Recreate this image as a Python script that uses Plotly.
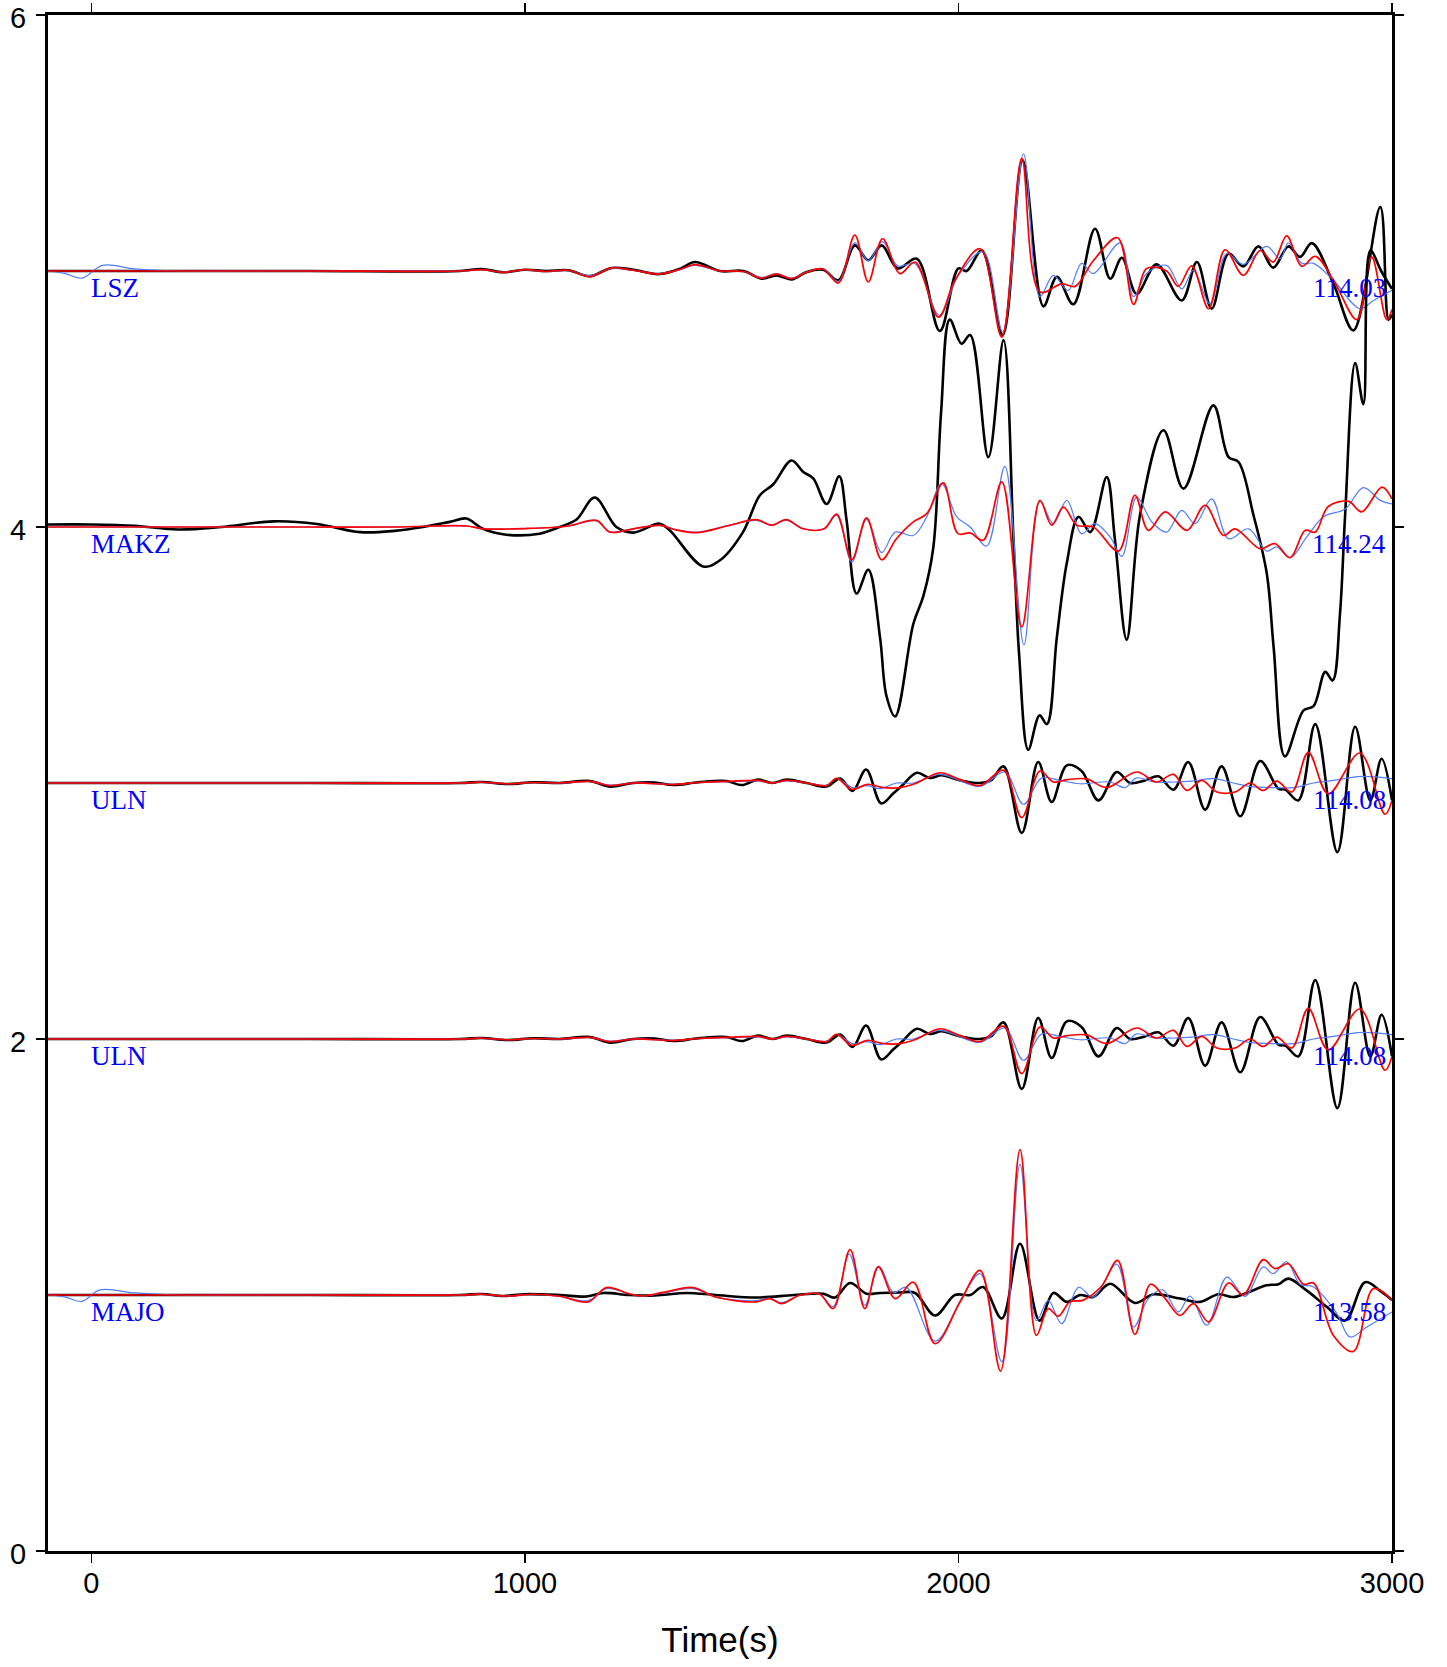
import plotly.graph_objects as go

# ---------------- data ----------------
STATIONS = ["LSZ", "MAKZ", "ULN", "ULN", "MAJO"]
BASELINES = [5, 4, 3, 2, 1]
RIGHT_LABELS = ["114.03", "114.24", "114.08", "114.08", "113.58"]
X_TICKS = [0, 1000, 2000, 3000]
Y_TICKS = [0, 2, 4, 6]

# LSZ
LSZ_BLACK_T = [-100, 0, 200, 500, 850, 900, 950, 1000, 1050, 1100, 1150, 1200, 1250, 1310, 1360, 1392, 1450, 1504, 1546, 1580, 1615, 1650, 1688, 1723, 1761, 1792, 1823, 1860, 1904, 1957, 2000, 2019, 2054, 2102, 2148, 2196, 2227, 2265, 2315, 2350, 2377, 2411, 2457, 2515, 2550, 2584, 2623, 2657, 2692, 2726, 2761, 2788, 2815, 2865, 2911, 2973, 2992, 3000]
LSZ_BLACK_A = [0, 0, 0, 0, 0, 0.008, -0.005, 0.005, 0, 0.003, -0.02, 0.012, 0.005, -0.012, 0.01, 0.035, 0.0, 0.0, -0.03, -0.017, -0.033, -0.004, 0.005, -0.036, 0.10, 0.042, 0.10, 0.01, 0.048, -0.234, 0.01, 0.0, 0.08, -0.25, 0.432, -0.138, -0.023, -0.13, 0.165, -0.03, 0.052, -0.089, 0.026, -0.115, 0.035, -0.147, 0.068, 0.018, 0.096, 0.013, 0.096, 0.055, 0.109, -0.05, -0.232, 0.25, -0.19, -0.17]
LSZ_RED_T = [-100, 200, 500, 850, 900, 950, 1000, 1050, 1100, 1150, 1200, 1250, 1310, 1360, 1392, 1450, 1504, 1546, 1580, 1615, 1650, 1688, 1723, 1761, 1792, 1825, 1865, 1900, 1954, 1992, 2050, 2100, 2146, 2188, 2238, 2269, 2311, 2367, 2404, 2434, 2480, 2507, 2538, 2577, 2615, 2657, 2696, 2726, 2757, 2792, 2823, 2865, 2919, 2953, 2988, 3000]
LSZ_RED_A = [0, 0, 0, 0, 0.005, -0.005, 0.005, -0.002, 0.003, -0.022, 0.012, 0.003, -0.012, 0.008, 0.025, 0.0, -0.002, -0.028, -0.012, -0.03, -0.005, 0.008, -0.047, 0.14, -0.043, 0.126, -0.01, 0.035, -0.18, -0.036, 0.087, -0.258, 0.44, -0.082, -0.05, -0.06, 0.04, 0.13, -0.13, 0.01, 0.0, -0.06, 0.02, -0.147, 0.083, -0.017, 0.08, 0.035, 0.137, 0.018, 0.057, -0.036, -0.19, 0.055, -0.19, -0.15]
LSZ_BLUE_T = [-100, -60, -22, 26, 100, 200, 400, 600, 850, 900, 950, 1000, 1050, 1100, 1150, 1200, 1250, 1310, 1360, 1392, 1450, 1504, 1546, 1580, 1615, 1650, 1688, 1723, 1761, 1792, 1825, 1860, 1900, 1956, 2000, 2057, 2102, 2150, 2188, 2219, 2253, 2284, 2311, 2373, 2404, 2434, 2480, 2515, 2542, 2580, 2619, 2657, 2711, 2742, 2761, 2792, 2819, 2865, 2926, 2957, 3000]
LSZ_BLUE_A = [0, -0.01, -0.028, 0.022, 0.008, 0, 0, 0, 0, 0.004, -0.004, 0.004, -0.002, 0.002, -0.018, 0.01, 0.003, -0.01, 0.006, 0.022, 0, -0.002, -0.025, -0.01, -0.028, -0.004, 0.008, -0.04, 0.11, 0.04, 0.115, 0.02, 0.028, -0.173, -0.017, 0.075, -0.238, 0.458, -0.1, -0.017, -0.076, 0.03, -0.01, 0.11, -0.1, -0.01, 0.022, -0.07, 0.003, -0.128, 0.068, 0.026, 0.096, 0.048, 0.11, 0.03, 0.03, -0.036, -0.147, -0.115, -0.075]

# MAKZ
MAKZ_BLACK_T = [-100, 0, 100, 200, 300, 420, 520, 620, 700, 765, 827, 865, 903, 957, 1034, 1080, 1119, 1161, 1211, 1250, 1311, 1334, 1411, 1450, 1503, 1542, 1573, 1615, 1642, 1665, 1696, 1725, 1742, 1765, 1792, 1819, 1834, 1854, 1896, 1919, 1942, 1960, 1980, 2007, 2027, 2069, 2104, 2127, 2140, 2161, 2187, 2204, 2227, 2250, 2277, 2304, 2342, 2361, 2388, 2419, 2473, 2519, 2588, 2623, 2646, 2680, 2711, 2727, 2753, 2796, 2819, 2846, 2863, 2880, 2892, 2915, 2934, 2950, 2975, 3000]
MAKZ_BLACK_A = [0.01, 0.01, 0.005, -0.01, 0.0, 0.022, 0.012, -0.02, -0.015, 0.0, 0.02, 0.033, -0.007, -0.03, -0.026, 0.0, 0.029, 0.115, 0.0, -0.022, 0.013, -0.013, -0.154, -0.13, -0.02, 0.124, 0.167, 0.26, 0.215, 0.19, 0.09, 0.198, 0.026, -0.26, -0.167, -0.43, -0.66, -0.74, -0.378, -0.27, -0.08, 0.45, 0.81, 0.716, 0.75, 0.273, 0.73, -0.05, -0.5, -0.87, -0.736, -0.77, -0.43, -0.14, 0.04, -0.02, 0.195, -0.05, -0.44, 0.05, 0.378, 0.15, 0.475, 0.273, 0.254, 0.05, -0.18, -0.47, -0.896, -0.716, -0.7, -0.566, -0.6, -0.34, 0.05, 0.64, 0.48, 1.08, 1.0, 0.93]
MAKZ_RED_T = [-100, 100, 300, 500, 700, 865, 903, 1000, 1100, 1165, 1196, 1250, 1311, 1350, 1396, 1473, 1534, 1569, 1603, 1642, 1690, 1719, 1754, 1788, 1823, 1857, 1896, 1927, 1965, 1999, 2027, 2057, 2100, 2146, 2188, 2215, 2242, 2273, 2311, 2369, 2407, 2438, 2477, 2527, 2569, 2611, 2638, 2696, 2730, 2765, 2800, 2823, 2853, 2900, 2930, 2977, 3000]
MAKZ_RED_A = [0, 0, 0, 0, 0.0, 0.004, -0.007, -0.006, 0.004, 0.026, -0.02, -0.007, 0.006, -0.012, -0.022, 0.007, 0.029, 0.007, 0.029, -0.007, -0.007, 0.05, -0.128, 0.036, -0.128, -0.046, 0.02, 0.052, 0.172, -0.026, -0.023, -0.052, 0.176, -0.39, 0.104, 0.007, 0.078, 0.007, 0.0, -0.094, 0.124, -0.013, 0.059, -0.013, 0.085, -0.033, -0.007, -0.085, -0.065, -0.12, -0.013, -0.02, 0.08, 0.1, 0.059, 0.156, 0.11]
MAKZ_BLUE_T = [-100, 100, 300, 500, 700, 865, 903, 1000, 1100, 1165, 1196, 1250, 1311, 1350, 1396, 1473, 1534, 1569, 1603, 1642, 1690, 1719, 1754, 1788, 1823, 1854, 1896, 1927, 1961, 1996, 2027, 2065, 2107, 2151, 2188, 2219, 2250, 2284, 2315, 2350, 2377, 2411, 2446, 2480, 2515, 2546, 2584, 2623, 2669, 2711, 2734, 2765, 2803, 2842, 2892, 2934, 2973, 3000]
MAKZ_BLUE_A = [0, 0, 0, 0, 0.0, 0.004, -0.007, -0.006, 0.004, 0.024, -0.018, -0.007, 0.006, -0.01, -0.02, 0.007, 0.026, 0.007, 0.026, -0.007, -0.007, 0.045, -0.137, 0.03, -0.1, -0.02, -0.033, 0.04, 0.17, 0.04, 0.0, -0.075, 0.237, -0.46, 0.1, 0.013, 0.104, -0.026, 0.013, -0.04, -0.115, 0.117, 0.02, -0.02, 0.065, 0.013, 0.11, -0.046, -0.007, -0.094, -0.078, -0.12, -0.04, 0.04, 0.07, 0.154, 0.104, 0.09]

# ULN (same record shown in two rows)
ULN_BLACK_T = [-100, 200, 500, 850, 900, 960, 1020, 1080, 1150, 1196, 1250, 1300, 1342, 1400, 1465, 1500, 1538, 1570, 1604, 1650, 1696, 1727, 1756, 1787, 1822, 1850, 1870, 1904, 1934, 1961, 2004, 2050, 2075, 2104, 2146, 2184, 2215, 2250, 2284, 2323, 2365, 2396, 2430, 2461, 2496, 2530, 2569, 2607, 2650, 2696, 2738, 2754, 2784, 2823, 2874, 2915, 2950, 2976, 3000]
ULN_BLACK_A = [0, 0, 0, 0.0, 0.004, -0.004, 0.003, 0.0, 0.008, -0.014, 0.0, 0.002, -0.008, 0.003, 0.008, -0.008, 0.013, 0.0, 0.013, 0.0, -0.014, 0.017, -0.031, 0.053, -0.08, -0.04, -0.01, 0.04, 0.02, 0.03, 0.01, 0.0, 0.01, 0.065, -0.195, 0.082, -0.074, 0.069, 0.047, -0.068, 0.043, 0.0, 0.01, 0.026, -0.026, 0.082, -0.104, 0.065, -0.13, 0.086, -0.022, -0.026, -0.068, 0.23, -0.27, 0.22, -0.068, 0.095, -0.068]
ULN_RED_T = [-100, 200, 500, 850, 900, 960, 1020, 1080, 1150, 1196, 1250, 1342, 1400, 1465, 1538, 1570, 1604, 1650, 1696, 1719, 1754, 1790, 1827, 1865, 1904, 1957, 2004, 2050, 2104, 2146, 2188, 2219, 2250, 2296, 2342, 2411, 2457, 2496, 2527, 2561, 2596, 2638, 2673, 2703, 2734, 2769, 2807, 2853, 2926, 2984, 3000]
ULN_RED_A = [0, 0, 0, 0, 0.003, -0.003, 0.002, 0, 0.006, -0.01, 0.0, -0.006, 0.002, 0.006, 0.01, 0.0, 0.01, 0.0, -0.01, 0.018, -0.025, -0.005, -0.018, -0.018, 0.0, 0.04, 0.013, -0.01, 0.05, -0.135, 0.047, 0.004, 0.013, 0.016, -0.018, 0.043, 0.004, 0.034, -0.029, 0.01, -0.035, -0.035, 0.0, -0.029, 0.007, -0.035, 0.12, -0.042, 0.117, -0.122, -0.068]
ULN_BLUE_T = [-100, 200, 500, 850, 900, 960, 1020, 1080, 1150, 1196, 1250, 1342, 1400, 1465, 1538, 1570, 1604, 1650, 1696, 1719, 1756, 1790, 1819, 1857, 1896, 1957, 2050, 2107, 2150, 2192, 2234, 2280, 2350, 2384, 2411, 2450, 2496, 2538, 2588, 2634, 2673, 2726, 2773, 2819, 2865, 2930, 3000]
ULN_BLUE_A = [0, 0, 0, 0, 0.003, -0.003, 0.002, 0, 0.005, -0.008, 0.0, -0.005, 0.002, 0.005, 0.008, 0.0, 0.008, 0.0, -0.008, 0.018, -0.018, -0.01, -0.022, 0.0, 0.0, 0.034, -0.013, 0.043, -0.083, 0.02, 0.01, -0.003, 0.004, -0.018, 0.02, 0.004, 0.004, 0.007, 0.017, 0.0, -0.013, -0.018, -0.018, 0.0, 0.01, 0.026, 0.017]

# MAJO
MAJO_BLACK_T = [-100, 200, 500, 850, 900, 950, 1000, 1080, 1141, 1181, 1240, 1300, 1373, 1440, 1534, 1620, 1688, 1715, 1750, 1788, 1819, 1865, 1900, 1946, 1992, 2027, 2057, 2100, 2142, 2187, 2219, 2250, 2280, 2311, 2350, 2407, 2450, 2511, 2557, 2600, 2634, 2665, 2711, 2738, 2761, 2803, 2850, 2892, 2938, 2973, 3000]
MAJO_BLACK_A = [0, 0, 0, 0, 0.004, -0.004, 0.003, 0.0, -0.006, 0.008, 0.0, -0.002, 0.008, 0.0, -0.01, 0.0, 0.005, -0.01, 0.047, 0.005, 0.008, 0.01, 0.008, -0.08, 0.0, 0.0, 0.031, -0.092, 0.2, -0.1, 0.008, -0.027, 0.0, -0.008, 0.044, -0.031, 0.003, -0.014, -0.027, 0.003, -0.008, 0.008, 0.038, 0.042, 0.064, 0.018, -0.047, -0.1, 0.05, 0.016, -0.02]
MAJO_RED_T = [-100, 200, 500, 850, 900, 960, 1020, 1080, 1146, 1188, 1240, 1270, 1319, 1388, 1440, 1534, 1565, 1592, 1634, 1680, 1711, 1750, 1784, 1815, 1854, 1896, 1946, 2004, 2050, 2097, 2142, 2180, 2207, 2230, 2257, 2288, 2330, 2367, 2407, 2443, 2477, 2511, 2542, 2577, 2623, 2657, 2703, 2730, 2761, 2796, 2819, 2865, 2911, 2957, 3000]
MAJO_RED_A = [0, 0, 0, 0, 0.003, -0.004, 0.003, -0.005, -0.027, 0.029, 0.005, -0.004, 0.01, 0.029, -0.008, -0.027, -0.014, -0.034, -0.001, 0.003, -0.053, 0.177, -0.053, 0.11, -0.014, 0.05, -0.19, -0.027, 0.096, -0.297, 0.568, -0.158, -0.053, -0.083, -0.027, -0.02, 0.034, 0.135, -0.154, 0.042, -0.014, -0.08, -0.034, -0.105, 0.047, 0.0, 0.138, 0.103, 0.122, 0.042, 0.047, -0.158, -0.22, 0.025, -0.02]
MAJO_BLUE_T = [-100, -60, -22, 20, 100, 200, 400, 600, 850, 900, 960, 1020, 1080, 1146, 1188, 1240, 1270, 1319, 1388, 1440, 1534, 1565, 1592, 1634, 1680, 1711, 1748, 1784, 1817, 1850, 1880, 1946, 2011, 2050, 2100, 2142, 2180, 2207, 2238, 2277, 2311, 2365, 2404, 2438, 2471, 2507, 2534, 2573, 2619, 2661, 2703, 2726, 2757, 2788, 2819, 2873, 2903, 2942, 3000]
MAJO_BLUE_A = [0, -0.008, -0.025, 0.02, 0.008, 0, 0, 0, 0, 0.003, -0.004, 0.003, -0.005, -0.022, 0.025, 0.005, -0.004, 0.008, 0.025, -0.008, -0.022, -0.012, -0.03, -0.001, 0.003, -0.045, 0.16, -0.04, 0.113, 0.01, 0.03, -0.18, -0.001, 0.083, -0.26, 0.51, -0.1, -0.021, -0.112, 0.03, -0.008, 0.12, -0.125, -0.014, 0.02, -0.066, -0.004, -0.118, 0.07, -0.005, 0.11, 0.083, 0.13, 0.042, 0.031, -0.073, -0.164, -0.125, -0.066]

ROWS = [
    (LSZ_BLACK_T, LSZ_BLACK_A, LSZ_BLUE_T, LSZ_BLUE_A, LSZ_RED_T, LSZ_RED_A),
    (MAKZ_BLACK_T, MAKZ_BLACK_A, MAKZ_BLUE_T, MAKZ_BLUE_A, MAKZ_RED_T, MAKZ_RED_A),
    (ULN_BLACK_T, ULN_BLACK_A, ULN_BLUE_T, ULN_BLUE_A, ULN_RED_T, ULN_RED_A),
    (ULN_BLACK_T, ULN_BLACK_A, ULN_BLUE_T, ULN_BLUE_A, ULN_RED_T, ULN_RED_A),
    (MAJO_BLACK_T, MAJO_BLACK_A, MAJO_BLUE_T, MAJO_BLUE_A, MAJO_RED_T, MAJO_RED_A),
]

BLACK = "#000000"
BLUE = "#4f7dff"
RED = "#ff0000"

fig = go.Figure()
for base, (bt, ba, ut, ua, rt, ra) in zip(BASELINES, ROWS):
    for tt, aa, col, w in ((bt, ba, BLACK, 2.6), (ut, ua, BLUE, 1.2), (rt, ra, RED, 1.7)):
        fig.add_trace(go.Scatter(
            x=tt, y=[base + a for a in aa], mode="lines",
            line=dict(color=col, width=w, shape="spline", smoothing=1.0),
            showlegend=False, hoverinfo="skip"))

LABEL_FONT = dict(family="Liberation Serif", size=27, color="#0000ff")
for name, base, rl in zip(STATIONS, BASELINES, RIGHT_LABELS):
    fig.add_annotation(x=0, y=base - 0.066, text=name, showarrow=False,
                       xanchor="left", yanchor="middle", xshift=-2, font=LABEL_FONT)
    fig.add_annotation(x=2990, y=base - 0.066, text=rl, showarrow=False,
                       xanchor="right", yanchor="middle", font=LABEL_FONT)

axis_common = dict(showgrid=False, zeroline=False, showline=True, linewidth=3,
                   linecolor="black", mirror="ticks", ticks="outside",
                   ticklen=9, tickwidth=1.3, tickcolor="black", automargin=False,
                   ticklabeloverflow="allow",
                   tickfont=dict(family="Liberation Sans", size=29, color="black"))

fig.update_layout(
    width=1447, height=1667,
    margin=dict(l=48, r=55, t=15, b=116),
    paper_bgcolor="white", plot_bgcolor="white",
    xaxis=dict(range=[-100, 3000], tickvals=X_TICKS, ticktext=[str(v) for v in X_TICKS],
               ticklabelstandoff=-5,
               title=dict(text="Time(s)", font=dict(family="Liberation Sans", size=35, color="black"), standoff=30),
               **axis_common),
    yaxis=dict(range=[0, 6], tickvals=Y_TICKS, ticktext=[str(v) for v in Y_TICKS],
               ticklabelstandoff=4, ticklabelshift=3, **axis_common),
)

fig.write_html("out.html", config={"displayModeBar": False, "staticPlot": True},
               post_script="document.body.style.margin='0';document.body.style.overflow='hidden';")
